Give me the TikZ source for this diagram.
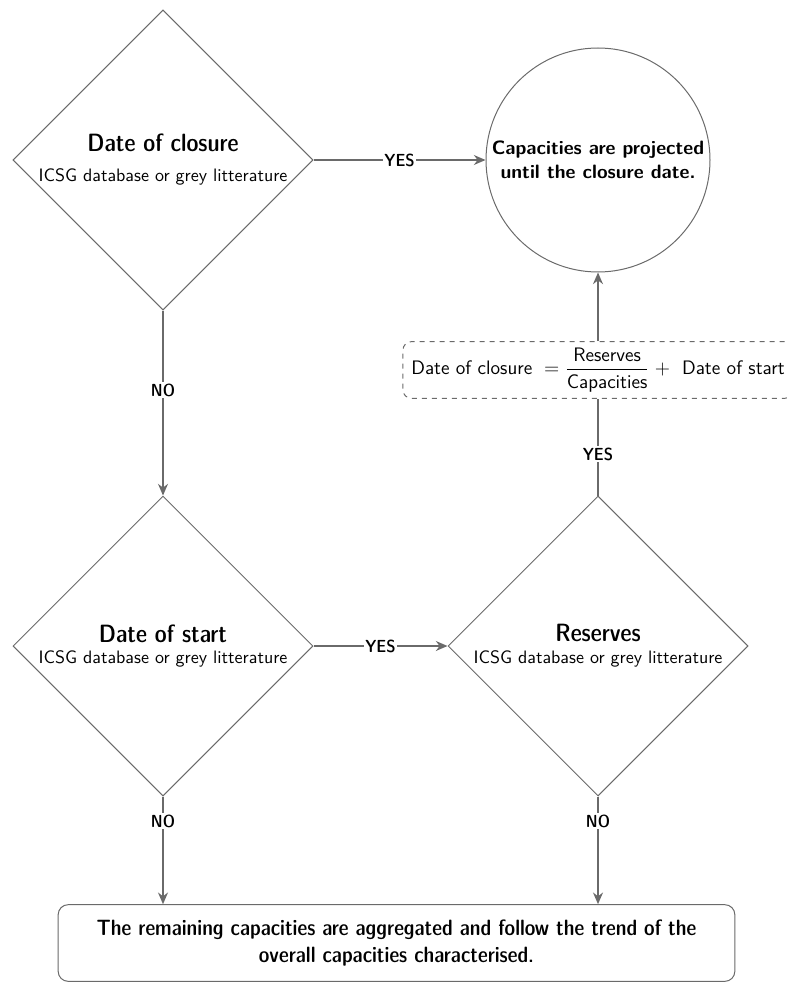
\documentclass[tikz,border=0pt]{standalone}
\usepackage{fontspec}
\usetikzlibrary{shapes.geometric,arrows.meta}
\definecolor{linegray}{HTML}{6A6A6A}
\begin{document}
\begin{tikzpicture}[x=0.6pt,y=-0.6pt,font=\sffamily\fontsize{10.8pt}{13pt}\selectfont,
  conn/.style={draw=linegray,line width=0.8pt,-{Stealth[length=7pt,width=6pt]}},
  plainline/.style={draw=linegray,line width=0.8pt},
  decision/.style={diamond,draw=linegray,line width=0.6pt,minimum width=180pt,minimum height=180pt,inner sep=0pt,align=center},
  lbl/.style={fill=white,inner sep=1pt,font=\sffamily\fontsize{10.5pt}{12pt}\fontseries{sbc}\selectfont}]
\newcommand{\dtitle}[1]{{\fontsize{15pt}{18pt}\fontseries{sbc}\selectfont #1}}
\useasboundingbox (0,0) rectangle (787,992);
\node[decision] (close) at (163,160) {\dtitle{Date of closure}\\[5pt]ICSG database or grey litterature};
\node[circle,draw=linegray,line width=0.6pt,minimum size=134.4pt,inner sep=0pt,align=center,font=\sffamily\fontsize{11.6pt}{14.5pt}\bfseries\selectfont] (circ) at (598,160) {Capacities are projected\\until the closure date.};
\node[draw=linegray,dashed,rounded corners=5pt,line width=0.6pt,minimum height=34pt,inner ysep=3pt,inner xsep=5pt,font=\sffamily\fontsize{11.7pt}{14pt}\selectfont] (form) at (598,370) {Date of closure $\;=\displaystyle\frac{\mbox{Reserves}}{\mbox{Capacities}}\;+\;$ Date of start};
\node[decision] (start) at (163,646) {\dtitle{Date of start}\\ICSG database or grey litterature};
\node[decision] (res) at (598,646) {\dtitle{Reserves}\\ICSG database or grey litterature};
\node[draw=linegray,rounded corners=6pt,line width=0.6pt,minimum width=406pt,minimum height=46pt,align=center,font=\sffamily\fontsize{13.3pt}{16.5pt}\fontseries{sbc}\selectfont] (final) at (396.5,943) {The remaining capacities are aggregated and follow the trend of the\\overall capacities characterised.};
\draw[conn] (close.east) -- node[lbl]{YES} (circ.west);
\draw[conn] (close.south) -- node[lbl,pos=0.43]{NO} (start.north);
\draw[conn] (start.east) -- node[lbl]{YES} (res.west);
\draw[plainline] (res.north) -- node[lbl,pos=0.43]{YES} (res.north |- form.south);
\draw[conn] (form.north) -- (circ.south);
\draw[conn] (start.south) -- node[lbl,pos=0.23]{NO} (start.south |- final.north);
\draw[conn] (res.south) -- node[lbl,pos=0.23]{NO} (res.south |- final.north);
\end{tikzpicture}
\end{document}
